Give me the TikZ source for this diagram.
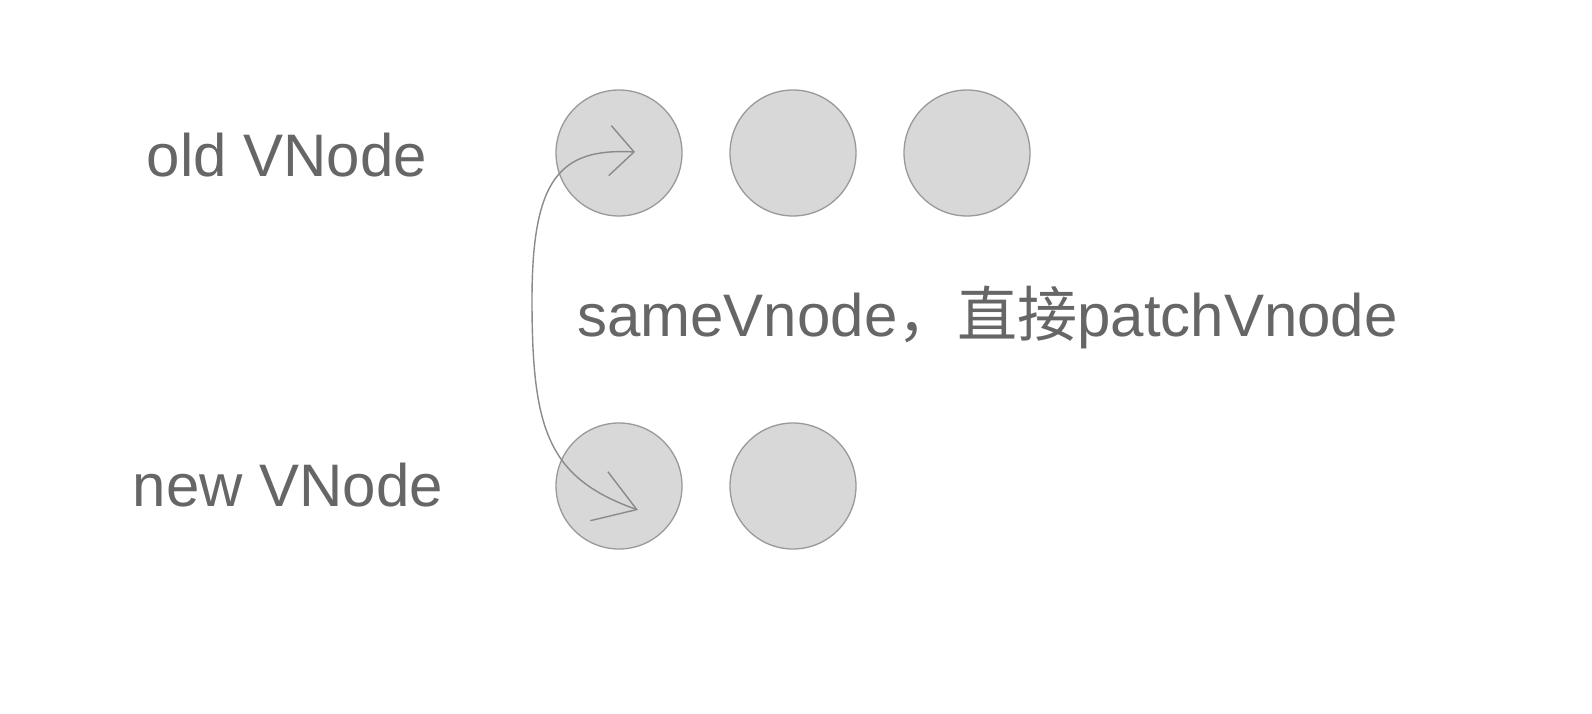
\documentclass[tikz,border=0pt]{standalone}
\usepackage{fontspec}
\setmainfont{Liberation Sans}
\newfontfamily\cjk{Noto Sans CJK SC}
\usetikzlibrary{arrows.meta}
\definecolor{vgray}{HTML}{D8D8D8}
\definecolor{vline}{HTML}{999999}
\definecolor{vtext}{HTML}{666666}

\begin{document}
\begin{tikzpicture}[x=1pt,y=-1pt,
	vnode/.style={circle, draw=vline, line width=1.3pt, fill=vgray, minimum size=126pt, inner sep=0pt},
	vlabel/.style={text=vtext, font=\fontsize{60}{66}\selectfont, inner sep=0pt, anchor=base}]
			%%%%% START %%%%%
			
			\useasboundingbox[fill=white] (0, 0) rectangle (1592, 714);
			
			\node[vlabel] (oldlabel) at (287, 177) {old VNode};
			\node[vlabel] (newlabel) at (288, 506) {new VNode};
			
			\node[vnode] (old1) at (619, 153) {};
			\node[vnode] (old2) at (793, 153) {};
			\node[vnode] (old3) at (967, 153) {};
			
			\node[vnode] (new1) at (619, 486) {};
			\node[vnode] (new2) at (793, 486) {};
			
			\node[vlabel, anchor=base west] (samelabel) at (577, 336) {sameVnode{\cjk ，直接}patchVnode};
			
			\coordinate (oldtip) at ([shift={(16, -1)}]old1.center);
			\coordinate (newtip) at ([shift={(19, 24)}]new1.center);
			
			\draw[color=vline!90!black, line width=1.4pt, line cap=round,
				{Straight Barb[length=24pt, width=50pt]}-{Straight Barb[length=40pt, width=52pt]}]
				(oldtip) .. controls (560, 148) and (532, 178) .. (532, 300)
				.. controls (532, 430) and (548, 478) .. (newtip);
			
			%%%%% END %%%%%
\end{tikzpicture}
\end{document}
